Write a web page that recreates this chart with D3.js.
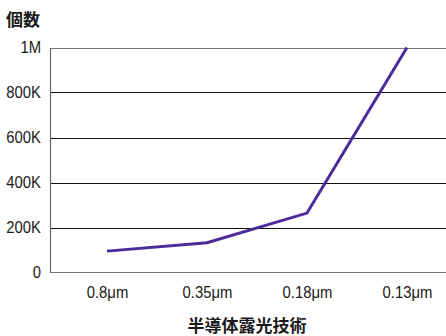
<!DOCTYPE html>
<html>
<head>
<meta charset="utf-8">
<script src="https://cdn.jsdelivr.net/npm/d3@7"></script>
<style>
  html, body { margin: 0; padding: 0; background: #fff; }
  svg { display: block; }
  .tick text { font-family: "Liberation Sans", Arial, sans-serif; font-size: 16.5px; fill: #1a1a1a; }
  .title { font-family: "Noto Sans CJK JP", sans-serif; font-weight: 700; font-size: 17px; fill: #1a1a1a; }
</style>
</head>
<body>
<svg id="chart" width="446" height="336"></svg>
<script>
// Process nodes and the number of units
const categories = ["0.8\u03bcm", "0.35\u03bcm", "0.18\u03bcm", "0.13\u03bcm"];
const counts = [95000, 132000, 264000, 1000000];
const yTicks = [0, 200000, 400000, 600000, 800000, 1000000];
const yTickLabels = ["0", "200K", "400K", "600K", "800K", "1M"];

(function draw() {
  const svg = d3.select("#chart");
  const plotLeft = 50, plotRight = 446, plotTop = 47.5, plotBottom = 272.5;
  const narrow = "scale(0.9,1)";

  const x = d3.scalePoint().domain(categories).range([107, 407]);
  const y = d3.scaleLinear().domain([0, 1000000]).range([plotBottom, plotTop]);

  // Horizontal grid lines
  svg.append("g")
    .selectAll("line")
    .data(yTicks.slice(1, -1))
    .join("line")
    .attr("x1", plotLeft).attr("x2", plotRight)
    .attr("y1", d => Math.round(y(d)) + 0.5).attr("y2", d => Math.round(y(d)) + 0.5)
    .attr("stroke", "#111").attr("stroke-width", 1);

  // Top border at 1M
  svg.append("line")
    .attr("x1", plotLeft).attr("x2", plotRight)
    .attr("y1", Math.round(y(1000000)) + 0.5).attr("y2", Math.round(y(1000000)) + 0.5)
    .attr("stroke", "#777").attr("stroke-width", 1.2);

  // Y axis
  const yAxis = d3.axisLeft(y)
    .tickValues(yTicks)
    .tickFormat((d, i) => yTickLabels[i])
    .tickSize(0)
    .tickPadding(10);
  const gy = svg.append("g").attr("transform", `translate(${plotLeft},0)`).call(yAxis);
  gy.select(".domain").attr("stroke", "#666").attr("stroke-width", 1.2);
  gy.selectAll(".tick text").attr("transform", narrow);

  // X axis
  const xAxis = d3.axisBottom(x).tickSize(0).tickPadding(14);
  const gx = svg.append("g").attr("transform", `translate(0,${plotBottom})`).call(xAxis);
  gx.select(".domain").remove();
  gx.selectAll(".tick text").attr("transform", narrow);
  svg.append("line")
    .attr("x1", plotLeft).attr("x2", plotRight)
    .attr("y1", plotBottom).attr("y2", plotBottom)
    .attr("stroke", "#777").attr("stroke-width", 1.2);

  // Series line
  const line = d3.line().x((d, i) => x(categories[i])).y(d => y(d));
  svg.append("path")
    .datum(counts)
    .attr("d", line)
    .attr("fill", "none")
    .attr("stroke", "#4a2c9b")
    .attr("stroke-width", 3)
    .attr("stroke-linejoin", "miter");

  // Titles
  svg.append("text").attr("class", "title").attr("x", 6).attr("y", 26).text("個数");
  svg.append("text").attr("class", "title").attr("x", 247).attr("y", 332)
    .attr("text-anchor", "middle").text("半導体露光技術");
})();
</script>
</body>
</html>
